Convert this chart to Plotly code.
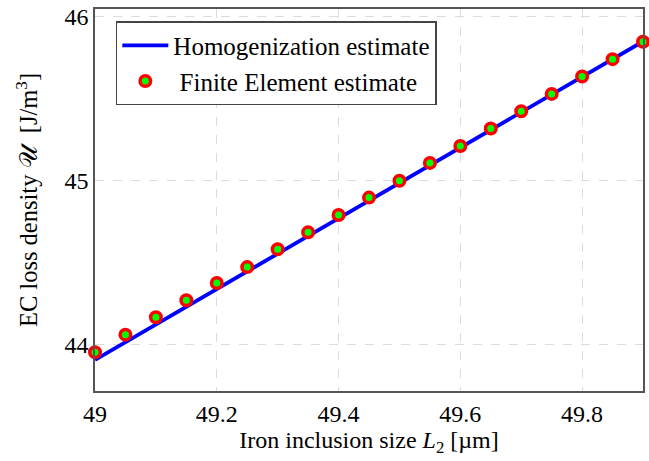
import plotly.graph_objects as go

# Iron inclusion size L2 [µm]
l2 = [49.0, 49.05, 49.1, 49.15, 49.2, 49.25, 49.3, 49.35, 49.4, 49.45,
      49.5, 49.55, 49.6, 49.65, 49.7, 49.75, 49.8, 49.85, 49.9]

# Homogenization estimate of the eddy-current loss density [J/m^3]
homog = [43.907, 44.015, 44.124, 44.232, 44.341, 44.449, 44.558, 44.666, 44.774, 44.883,
         44.991, 45.099, 45.206, 45.314, 45.421, 45.528, 45.636, 45.743, 45.850]

# Finite element estimate [J/m^3]
fem = [43.953, 44.061, 44.167, 44.271, 44.376, 44.473, 44.582, 44.685, 44.791, 44.897,
       45.000, 45.109, 45.212, 45.319, 45.424, 45.530, 45.636, 45.742, 45.848]

x_ticks = [49.0, 49.2, 49.4, 49.6, 49.8]
x_tick_text = ["49", "49.2", "49.4", "49.6", "49.8"]
y_ticks = [44, 45, 46]

serif = "Liberation Serif"

fig = go.Figure()
fig.add_trace(go.Scatter(
    x=l2, y=homog, mode="lines", name="Homogenization estimate",
    line=dict(color="#0000ff", width=3.8),
))
fig.add_trace(go.Scatter(
    x=l2, y=fem, mode="markers", name=" Finite Element estimate",
    marker=dict(color="#00ff00", size=10.5, line=dict(color="#ff0000", width=3.5)),
    cliponaxis=False,
))

axis_common = dict(
    showline=True, linecolor="#555555", linewidth=1.5, mirror=True,
    showgrid=True, gridcolor="#dcdcdc", gridwidth=1, griddash="dash",
    zeroline=False, ticks="", tickfont=dict(family=serif, size=24, color="black"),
)

fig.update_layout(
    width=649, height=461,
    margin=dict(l=95, r=4, t=6, b=70),
    paper_bgcolor="white", plot_bgcolor="white",
    font=dict(family=serif, size=24, color="black"),
    showlegend=True,
    legend=dict(
        x=0.038, y=0.968, xanchor="left", yanchor="top",
        bgcolor="white", bordercolor="#444444", borderwidth=1.5,
        font=dict(family=serif, size=25, color="black"),
        tracegroupgap=0, itemwidth=46,
    ),
    xaxis=dict(
        range=[49.0, 49.9], tickvals=x_ticks, ticktext=x_tick_text,
        title=dict(text="Iron inclusion size <i>L</i><sub>2</sub> [µm]", standoff=4,
                   font=dict(family=serif, size=24)),
        **axis_common,
    ),
    yaxis=dict(
        range=[43.717, 46.048], tickvals=y_ticks,
        title=dict(text="EC loss density 𝒰  [J/m<sup>3</sup>]", standoff=20,
                   font=dict(family=serif, size=24.5)),
        **axis_common,
    ),
)

fig.write_html("out.html")
